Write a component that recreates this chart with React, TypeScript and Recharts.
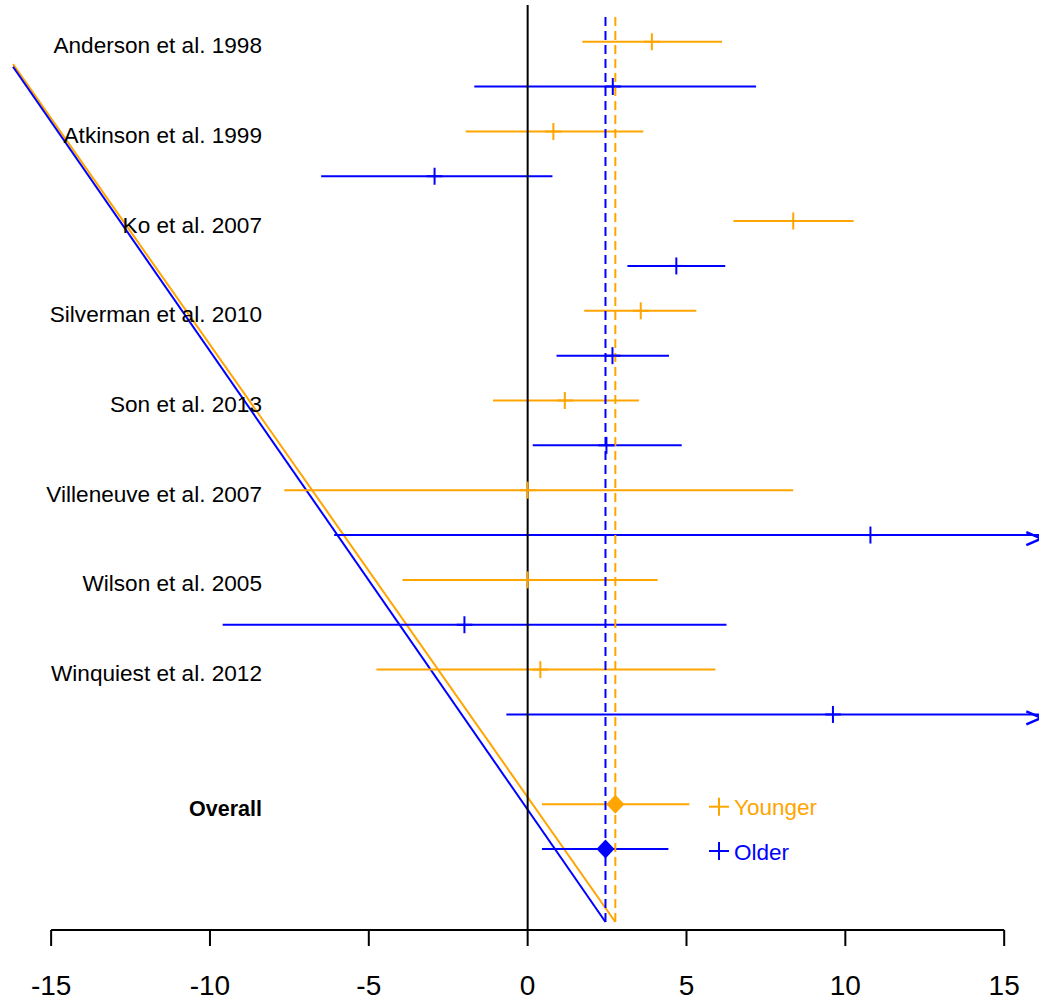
import { ComposedChart, Scatter, XAxis, YAxis, ReferenceLine, Legend } from 'recharts'

const FONT = '"Liberation Sans", Arial, sans-serif'

// studies in plotting order (top to bottom)
const studies = [
  'Anderson et al. 1998',
  'Atkinson et al. 1999',
  'Ko et al. 2007',
  'Silverman et al. 2010',
  'Son et al. 2013',
  'Villeneuve et al. 2007',
  'Wilson et al. 2005',
  'Winquiest et al. 2012',
]

const groups = ['Younger', 'Older']
const colors = ['#FFA500', '#0000FF']

// % change estimates with 95% CI
const youngerEst = [3.91, 0.81, 8.36, 3.56, 1.17, 0.0, 0.0, 0.4]
const youngerLo = [1.72, -1.95, 6.48, 1.78, -1.09, -7.66, -3.94, -4.76]
const youngerHi = [6.12, 3.64, 10.26, 5.31, 3.5, 8.36, 4.09, 5.91]

const olderEst = [2.68, -2.93, 4.68, 2.67, 2.48, 10.79, -1.99, 9.61]
const olderLo = [-1.68, -6.5, 3.14, 0.91, 0.16, -6.09, -9.6, -0.67]
const olderHi = [7.19, 0.78, 6.22, 4.45, 4.85, 27.7, 6.26, 19.9]

// pooled estimates: [younger, older]
const overallEst = [2.76, 2.45]
const overallLo = [0.45, 0.45]
const overallHi = [5.09, 4.43]

// upper end of the sloped reference lines at the left edge
const trendTop = [19.5, 19.44]

const xTicks = [-15, -10, -5, 0, 5, 10, 15]

const X_MIN = -16.2
const X_MAX = 16.2
const Y_MIN = 0.194
const Y_MAX = 20.818
const LINE_BOTTOM = 0.372
const LINE_TOP = 20.595

const est = [youngerEst, olderEst]
const lo = [youngerLo, olderLo]
const hi = [youngerHi, olderHi]

type Pt = { x: number; y: number; lo: number; hi: number }

const series = groups.map((name, g) => ({
  name,
  color: colors[g],
  points: studies.map((_, i) => ({ x: est[g][i], y: 20 - 2 * i - g, lo: lo[g][i], hi: hi[g][i] })) as Pt[],
  overall: { x: overallEst[g], y: 3 - g, lo: overallLo[g], hi: overallHi[g] } as Pt,
}))

const labelRows = [...studies.map((_, i) => 20 - 2 * i), 3]
const labelText: Record<number, string> = {}
studies.forEach((s, i) => (labelText[20 - 2 * i] = s))
labelText[3] = 'Overall'

const plus = (color: string) => (p: any) => (
  <g stroke={color} strokeWidth={2}>
    <line x1={p.cx - 8} x2={p.cx + 8} y1={p.cy} y2={p.cy} />
    <line x1={p.cx} x2={p.cx} y1={p.cy - 8.5} y2={p.cy + 8.5} />
  </g>
)

const diamond = (color: string) => (p: any) => (
  <polygon
    points={`${p.cx - 9},${p.cy} ${p.cx},${p.cy - 9.5} ${p.cx + 9},${p.cy} ${p.cx},${p.cy + 9.5}`}
    fill={color}
  />
)

const chevron = (color: string) => (p: any) => (
  <path
    d={`M${p.cx - 16},${p.cy - 3} L${p.cx - 1},${p.cy + 3.5} L${p.cx - 16},${p.cy + 10}`}
    fill="none"
    stroke={color}
    strokeWidth={2.5}
  />
)

function StudyTick(props: any) {
  const { y, payload } = props
  const bold = payload.value === 3
  return (
    <text x={262} y={y + 11.5} textAnchor="end" fontSize={bold ? 21.5 : 22.6} fontWeight={bold ? 'bold' : 'normal'} fontFamily={FONT} fill="#000">
      {labelText[payload.value]}
    </text>
  )
}

function GroupLegend() {
  return (
    <svg width={130} height={90} style={{ overflow: 'visible', display: 'block' }}>
      {groups.map((name, g) => {
        const cy = 18.7 + g * 44.3
        return (
          <g key={name}>
            <g stroke={colors[g]} strokeWidth={2}>
              <line x1={9} x2={29} y1={cy} y2={cy} />
              <line x1={19} x2={19} y1={cy - 9} y2={cy + 9} />
            </g>
            <text x={34} y={cy + 8.5} fontSize={22.5} fontFamily={FONT} fill={colors[g]}>
              {name}
            </text>
          </g>
        )
      })}
    </svg>
  )
}

export default function App() {
  return (
    <div style={{ position: 'absolute', left: 0, top: 0, width: 1039, height: 1003, overflow: 'hidden', background: '#fff' }}>
      <ComposedChart width={1044} height={1003} margin={{ top: 5, right: 1.7, bottom: 0, left: 0 }}>
        <XAxis
          type="number"
          dataKey="x"
          domain={[X_MIN, X_MAX]}
          ticks={xTicks}
          interval={0}
          allowDataOverflow
          axisLine={false}
          stroke="#000"
          tickSize={16}
          tickLine={{ strokeWidth: 2 }}
          tickMargin={29}
          tick={{ fontSize: 28, fill: '#000', fontFamily: FONT }}
          height={73}
        />
        <YAxis
          type="number"
          dataKey="y"
          domain={[Y_MIN, Y_MAX]}
          ticks={labelRows}
          interval={0}
          allowDataOverflow
          axisLine={false}
          tickLine={false}
          tick={<StudyTick />}
          width={13}
        />

        {/* x axis line, only across the ticked range */}
        <ReferenceLine segment={[{ x: -15, y: Y_MIN }, { x: 15, y: Y_MIN }]} stroke="#000" strokeWidth={2} ifOverflow="visible" />

        {/* sloped reference lines from the pooled estimates */}
        {series.map((s, g) => (
          <ReferenceLine
            key={'trend' + g}
            segment={[{ x: s.overall.x, y: LINE_BOTTOM }, { x: X_MIN, y: trendTop[g] }]}
            stroke={s.color}
            strokeWidth={2}
            ifOverflow="visible"
          />
        ))}

        {/* CI bars */}
        {series.map((s) =>
          [...s.points, s.overall].map((p, i) => (
            <ReferenceLine
              key={s.name + i}
              segment={[{ x: p.lo, y: p.y }, { x: Math.min(p.hi, X_MAX), y: p.y }]}
              stroke={s.color}
              strokeWidth={2}
              ifOverflow="visible"
            />
          ))
        )}

        <ReferenceLine x={0} stroke="#000" strokeWidth={2} />

        {/* pooled estimates */}
        {series.map((s) => (
          <ReferenceLine
            key={'pooled' + s.name}
            segment={[{ x: s.overall.x, y: LINE_BOTTOM }, { x: s.overall.x, y: LINE_TOP }]}
            stroke={s.color}
            strokeWidth={2}
            strokeDasharray="9 5"
            ifOverflow="visible"
          />
        ))}

        {series.map((s) => (
          <Scatter key={'pt' + s.name} name={s.name} data={s.points} shape={plus(s.color)} isAnimationActive={false} />
        ))}
        {series.map((s) => (
          <Scatter
            key={'arrow' + s.name}
            data={s.points.filter((p) => p.hi > X_MAX).map((p) => ({ x: X_MAX, y: p.y }))}
            shape={chevron(s.color)}
            isAnimationActive={false}
            legendType="none"
          />
        ))}
        {series.map((s) => (
          <Scatter key={'ov' + s.name} data={[s.overall]} shape={diamond(s.color)} isAnimationActive={false} legendType="none" />
        ))}

        <Legend
          layout="vertical"
          align="center"
          verticalAlign="middle"
          wrapperStyle={{ left: 700, top: 788, width: 130, height: 90 }}
          content={() => <GroupLegend />}
        />
      </ComposedChart>
    </div>
  )
}
